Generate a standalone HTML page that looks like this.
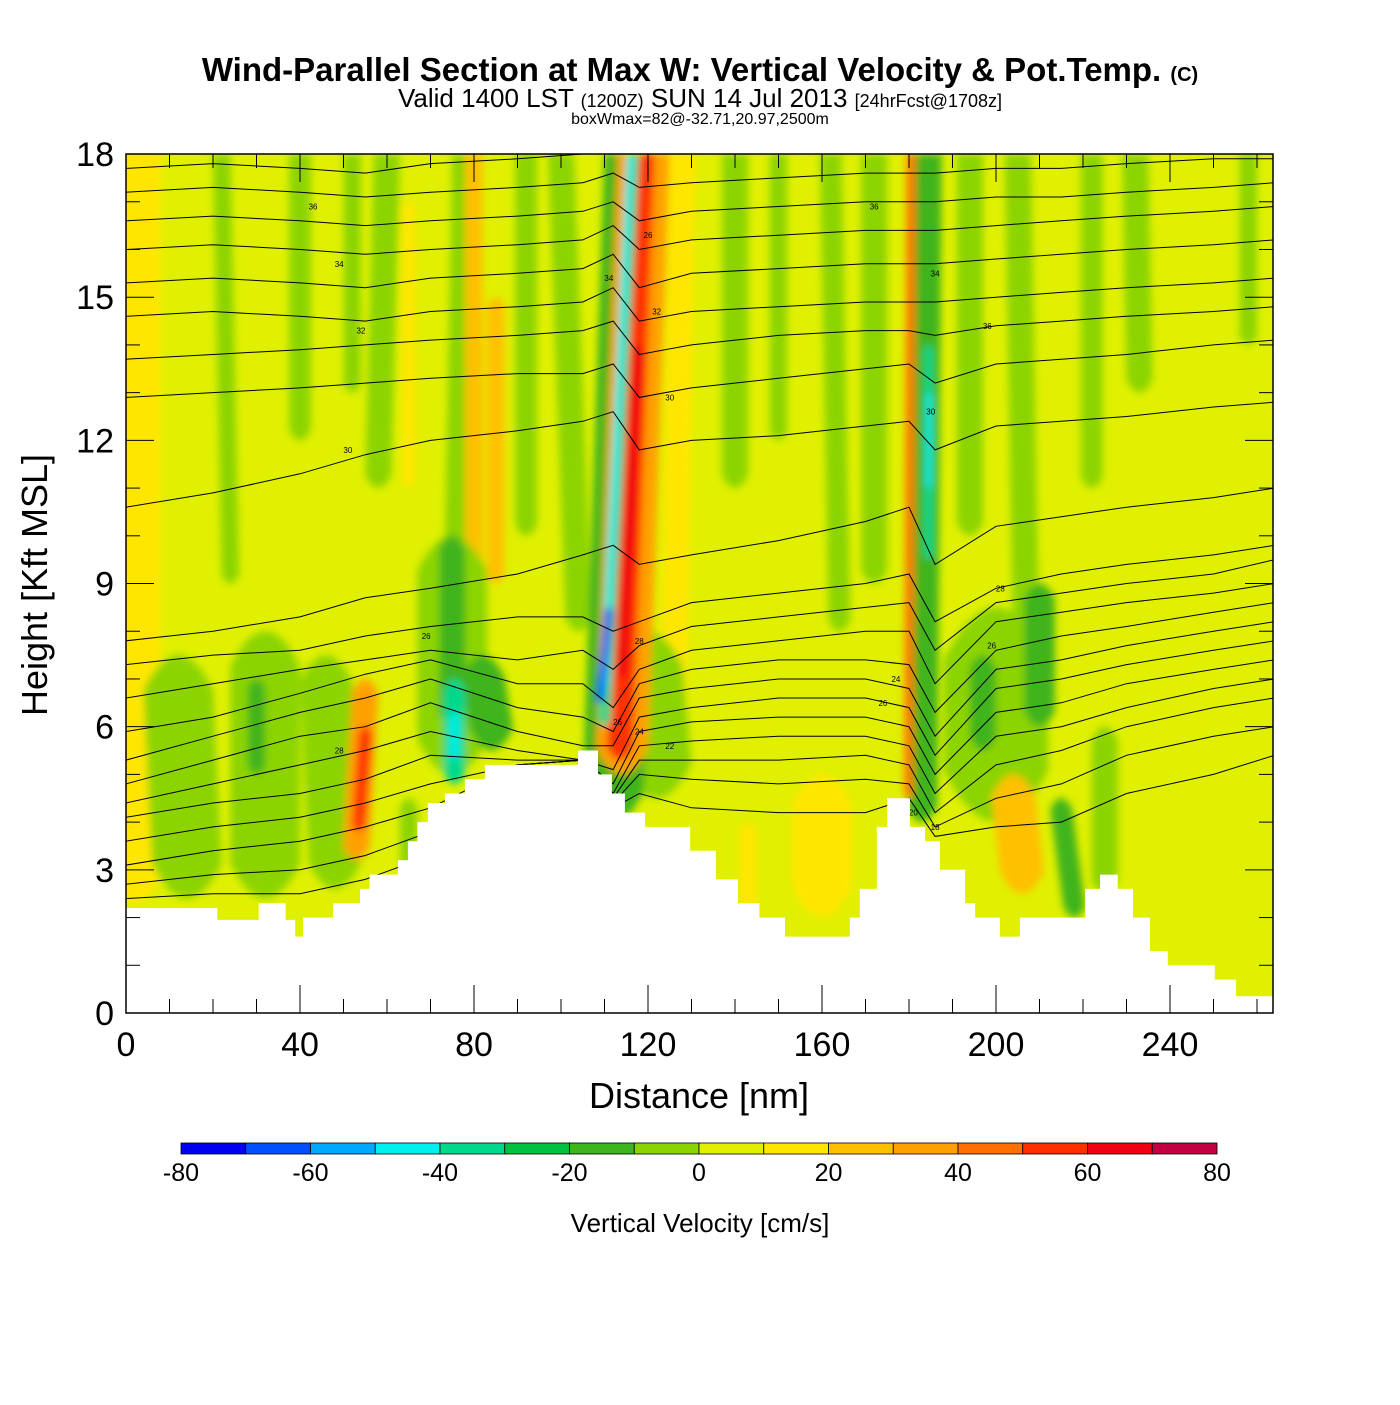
<!DOCTYPE html>
<html><head><meta charset="utf-8"><style>
html,body{margin:0;padding:0;background:#fff;}
svg text{font-family:"Liberation Sans",sans-serif;}
</style></head><body>
<svg id="chart" width="1400" height="1400" viewBox="0 0 1400 1400" xmlns="http://www.w3.org/2000/svg">
<defs>
<filter id="soft" x="-20%" y="-5%" width="140%" height="110%"><feGaussianBlur stdDeviation="4"/></filter>
<clipPath id="plotclip"><rect x="126" y="154" width="1147" height="859"/></clipPath>
</defs>
<text x="700" y="81" text-anchor="middle" font-size="33" font-weight="bold">Wind-Parallel Section at Max W: Vertical Velocity &amp; Pot.Temp. <tspan font-size="20">(C)</tspan></text>
<text x="700" y="107" text-anchor="middle" font-size="26">Valid 1400 LST <tspan font-size="18">(1200Z)</tspan> SUN 14 Jul 2013 <tspan font-size="18">[24hrFcst@1708z]</tspan></text>
<text x="700" y="124" text-anchor="middle" font-size="16">boxWmax=82@-32.71,20.97,2500m</text>
<g id="plot" clip-path="url(#plotclip)"></g>
<g id="axes"></g>
<g id="cbar"></g>
</svg>
<script>
// ---- data ----
const wLevels = [-80,-70,-60,-50,-40,-30,-20,-10,0,10,20,30,40,50,60,70,80];
const wColors = ["#0000f0","#0050ff","#00a8ff","#00f0f0","#00d88c","#00c040","#40b41e","#8cd400","#e0f000","#ffe600","#ffc000","#ffa000","#ff7000","#ff3000","#f00010","#c00040"];
const xTicks = [0,40,80,120,160,200,240];
const yTicks = [0,3,6,9,12,15,18];
// streaks: [xTopNm, xBottomNm, halfWidthNm, topKft, bottomKft, w]
const streaks = [
 [2,2,6,18,2.3,15],
 [40,40,2.5,18,12,-5],[22,24,2,18,9,-5],[60,58,3,18,11,-5],[52,52,2,18,13,-5],
 [78,76,3,18,8,-5],[92,92,2.5,18,10,-5],[100,104,3,18,8,-5],[140,140,3,18,11,-5],
 [150,150,2,18,12,-5],[162,164,2.5,18,8,-5],[172,172,3,18,9,-5],[194,194,3,18,10,-5],
 [205,207,3,18,7,-5],[222,222,2.5,18,11,-5],[232,233,3,18,13,-5],[258,258,2,18,14,-5],
 [80,80,2,18,9,25],[85,85,2,15,9,25],[65,65,1.5,17,11,15],[128,126,3,18,6,15],
 [12,14,8,7.5,2.4,-5],[32,32,8,8,2.4,-5],[46,48,6,7.5,2.6,-5],[75,75,8,10,5,-5],[75,75,3,10,6,-15],
 [30,30,2,7,5,-15],[82,84,5,7.5,5.5,-15],[120,122,8,8,4.5,-5],[200,200,12,8.5,4,-5],
 [210,210,3.5,9,6,-15],[197,197,3,7.5,5.5,-15],[215,218,2.5,4.5,2,-20],[225,225,3,6,2.5,-5],
 [117,112,7,18,4,-15],[119,114,6,18,5,30],[118.5,113.5,3,18,5.3,55],[118,114,1.2,14,7,65],
 [116.5,110,1.4,18,6,-40],[116,110,0.7,18,6.8,-50],[111,109,0.8,8.5,6.5,-65],
 [184,183,3.5,18,4,-15],[180.5,180,1,18,4.5,45],[184.5,184.5,1,14,9.5,-40],[184.7,184.6,0.6,13,11,-50],
 [55,53,3,7,3.2,35],[55,53.5,1.5,6,3.8,55],[75.5,75.5,2.5,7,4.8,-40],[75.5,75.5,1,6.3,5.3,-50],
 [204,206,5,5,2.5,25],[160,160,7,5,2,15],[143,143,2,4,2,15],[65,65,2,4.5,3,-5]
];
// terrain: [nm, kft] step profile
const terrain = [[0,2.2],[21,2.2],[21,1.95],[30.5,1.95],[30.5,2.3],[36.7,2.3],[36.7,1.95],[38.9,1.95],[38.9,1.6],[40.7,1.6],[40.7,2.0],[47.6,2.0],[47.6,2.3],[53.8,2.3],[53.8,2.6],[56,2.6],[56,2.9],[62.5,2.9],[62.5,3.2],[64.8,3.2],[64.8,3.6],[67,3.6],[67,4.0],[69.4,4.0],[69.4,4.4],[73.3,4.4],[73.3,4.6],[77.9,4.6],[77.9,4.9],[82.5,4.9],[82.5,5.2],[103.9,5.2],[103.9,5.5],[108.5,5.5],[108.5,5.0],[111.7,5.0],[111.7,4.6],[114.7,4.6],[114.7,4.2],[119.3,4.2],[119.3,3.9],[129.7,3.9],[129.7,3.4],[135.6,3.4],[135.6,2.8],[140.7,2.8],[140.7,2.3],[145.6,2.3],[145.6,2.0],[151.5,2.0],[151.5,1.6],[166.4,1.6],[166.4,2.0],[168.7,2.0],[168.7,2.6],[172.6,2.6],[172.6,3.9],[175,3.9],[175,4.5],[180.2,4.5],[180.2,3.9],[183.7,3.9],[183.7,3.6],[187.1,3.6],[187.1,3.0],[192.9,3.0],[192.9,2.3],[195.2,2.3],[195.2,2.0],[200.9,2.0],[200.9,1.6],[205.5,1.6],[205.5,2.0],[220.5,2.0],[220.5,2.6],[223.9,2.6],[223.9,2.9],[228.0,2.9],[228.0,2.6],[231.5,2.6],[231.5,2.0],[235.4,2.0],[235.4,1.3],[239.5,1.3],[239.5,1.0],[250.3,1.0],[250.3,0.7],[255.2,0.7],[255.2,0.35],[264,0.35]];
// theta contours: heights (kft) at contourX nodes
const contourX = [0,20,40,55,70,90,105,112,118,130,150,170,180,186,200,215,230,250,264];
const contours = [
 [17.7,17.8,17.7,17.6,17.8,17.9,18,18,18,18,18,18,18,18,18,18,18,18,18],
 [17.2,17.3,17.2,17.1,17.2,17.3,17.4,17.6,17.3,17.4,17.5,17.6,17.6,17.6,17.7,17.7,17.8,17.9,17.9],
 [16.6,16.7,16.6,16.5,16.6,16.7,16.8,17.0,16.6,16.8,16.9,17.0,17.0,17.0,17.1,17.1,17.2,17.3,17.4],
 [16.0,16.1,16.0,15.9,16.0,16.1,16.2,16.5,16.0,16.2,16.3,16.4,16.4,16.4,16.5,16.6,16.7,16.8,16.9],
 [15.3,15.4,15.3,15.2,15.4,15.5,15.6,15.9,15.2,15.5,15.6,15.7,15.7,15.7,15.8,15.9,16.0,16.1,16.2],
 [14.6,14.7,14.6,14.5,14.7,14.8,14.9,15.2,14.5,14.7,14.8,14.9,14.9,14.9,15.0,15.1,15.2,15.3,15.4],
 [13.7,13.8,13.9,14.0,14.1,14.2,14.3,14.5,13.8,14.0,14.2,14.3,14.3,14.2,14.4,14.5,14.6,14.7,14.8],
 [12.9,13.0,13.1,13.2,13.3,13.4,13.4,13.6,12.9,13.1,13.3,13.5,13.6,13.2,13.6,13.7,13.8,14.0,14.1],
 [10.6,10.9,11.3,11.7,12.0,12.2,12.4,12.6,11.8,12.0,12.1,12.3,12.4,11.8,12.3,12.4,12.5,12.7,12.8],
 [7.8,8.0,8.3,8.7,8.9,9.2,9.6,9.8,9.4,9.6,9.9,10.3,10.6,9.4,10.2,10.4,10.6,10.8,11.0],
 [7.3,7.5,7.6,7.9,8.1,8.3,8.3,8.0,8.2,8.6,8.8,9.0,9.2,8.2,8.9,9.2,9.4,9.6,9.8],
 [6.6,6.9,7.2,7.4,7.6,7.4,7.6,7.2,7.7,8.1,8.3,8.5,8.6,7.6,8.6,8.8,9.0,9.2,9.5],
 [5.9,6.2,6.7,7.1,7.4,6.9,6.9,6.4,7.2,7.6,7.8,8.0,8.0,6.9,8.2,8.4,8.6,8.8,9.0],
 [5.3,5.8,6.3,6.6,7.0,6.4,6.2,5.9,6.9,7.2,7.4,7.4,7.3,6.3,7.6,7.9,8.1,8.4,8.6],
 [4.8,5.3,5.8,6.0,6.5,5.9,5.6,5.6,6.6,6.8,7.0,7.0,6.8,5.8,7.2,7.4,7.7,8.0,8.2],
 [4.4,4.8,5.2,5.5,5.9,5.5,5.3,5.1,6.2,6.4,6.6,6.6,6.4,5.4,6.8,7.0,7.3,7.6,7.8],
 [4.1,4.4,4.6,4.9,5.4,5.3,5.3,4.8,5.9,6.1,6.2,6.2,6.0,5.0,6.3,6.5,6.9,7.2,7.4],
 [3.6,3.9,4.1,4.4,4.8,5.2,5.3,4.6,5.6,5.7,5.8,5.8,5.6,4.6,5.8,6.0,6.4,6.8,7.0],
 [3.1,3.4,3.6,3.9,4.3,5.2,5.3,4.5,5.3,5.3,5.3,5.4,5.2,4.2,5.2,5.5,6.0,6.4,6.6],
 [2.7,2.9,3.0,3.3,3.8,5.2,5.3,4.4,5.0,4.9,4.8,4.9,4.8,3.9,4.5,4.8,5.4,5.8,6.0],
 [2.4,2.5,2.5,2.8,3.3,5.2,5.3,4.3,4.6,4.3,4.2,4.2,4.5,3.7,3.9,4.0,4.6,5.0,5.4]
];
const contourLabels = [[43,16.9,"36"],[49,15.7,"34"],[54,14.3,"32"],[51,11.8,"30"],[69,7.9,"26"],[49,5.5,"28"],[120,16.3,"26"],[111,15.4,"34"],[122,14.7,"32"],[125,12.9,"30"],[118,7.8,"28"],[113,6.1,"26"],[118,5.9,"24"],[125,5.6,"22"],[172,16.9,"36"],[186,15.5,"34"],[198,14.4,"36"],[185,12.6,"30"],[201,8.9,"28"],[199,7.7,"26"],[177,7.0,"24"],[174,6.5,"26"],[181,4.2,"20"],[186,3.9,"18"]];

// ---- scales ----
const X = nm => 126 + nm * 4.35;
const Y = k => 1013 - k * 47.72;
const NS = "http://www.w3.org/2000/svg";
function mk(tag, attrs, parent){ const e=document.createElementNS(NS,tag); for(const k in attrs) e.setAttribute(k,attrs[k]); parent.appendChild(e); return e; }
function colorFor(w){ let i=Math.floor((w+80)/10); i=Math.max(0,Math.min(15,i)); return wColors[i]; }

const plot=document.getElementById('plot');
const bg=mk('rect',{x:126,y:154,width:1147,height:859,fill:colorFor(5)},plot);


const sg=mk('g',{filter:'url(#soft)'},plot);
streaks.forEach((s,i)=>{
  const [xt,xb,hw,top,bot,w]=s;
  const r=Math.min(hw*4.35,(Y(bot)-Y(top))/3);
  const pts=[[X(xt-hw),Y(top)],[X(xt+hw),Y(top)],[X(xb+hw),Y(bot)],[X(xb-hw),Y(bot)]];
  const topR = top>=17.9 ? 0 : r;
  const d=`M${pts[0][0]},${pts[0][1]+topR} Q${(pts[0][0]+pts[1][0])/2},${pts[0][1]-topR} ${pts[1][0]},${pts[1][1]+topR} L${pts[2][0]},${pts[2][1]-r} Q${(pts[2][0]+pts[3][0])/2},${pts[2][1]+r} ${pts[3][0]},${pts[3][1]-r} Z`;
  const p=mk('path',{d:d,fill:colorFor(w)},sg);
  
  
});
// contours
const cg=mk('g',{fill:'none',stroke:'#000','stroke-width':1},plot);
contours.forEach((c,i)=>{
  const d=c.map((h,j)=>(j?'L':'M')+X(contourX[j]).toFixed(1)+','+Y(h).toFixed(1)).join(' ');
  const p=mk('path',{d:d},cg);
  
  
});
contourLabels.forEach(l=>{
  const t=mk('text',{x:X(l[0]),y:Y(l[1])+3,'font-size':8,'text-anchor':'middle',fill:'#000'},plot);
  t.textContent=l[2];
  
  
});
// terrain
let td='M'+X(0)+','+Y(0);
terrain.forEach(p=>{ td+=' L'+X(p[0]).toFixed(1)+','+Y(p[1]).toFixed(1); });
td+=' L'+X(264)+','+Y(0)+' Z';
const ter=mk('path',{d:td,fill:'#fff'},plot);



// axes
const ax=document.getElementById('axes');
const frame=mk('rect',{x:126,y:154,width:1147,height:859,fill:'none',stroke:'#000','stroke-width':1.5},ax);


for(let v=0;v<=260;v+=10){
  const big=v%40===0, L=big?28:14;
  mk('line',{x1:X(v),x2:X(v),y1:1013,y2:1013-L,stroke:'#000'},ax);
  mk('line',{x1:X(v),x2:X(v),y1:154,y2:154+L,stroke:'#000'},ax);
}
for(let v=0;v<=18;v+=1){
  const big=v%3===0, L=big?28:14;
  mk('line',{x1:126,x2:126+L,y1:Y(v),y2:Y(v),stroke:'#000'},ax);
  mk('line',{x1:1273,x2:1273-L,y1:Y(v),y2:Y(v),stroke:'#000'},ax);
}
xTicks.forEach(v=>{
  const t=mk('text',{x:X(v),y:1056,'font-size':34,'text-anchor':'middle'},ax);
  t.textContent=v;
  
  
});
yTicks.forEach(v=>{
  const t=mk('text',{x:114,y:Y(v)+12,'font-size':34,'text-anchor':'end'},ax);
  t.textContent=v;
  
  
});
const xl=mk('text',{x:699,y:1108,'font-size':36,'text-anchor':'middle'},ax);
xl.textContent='Distance [nm]';


const yl=mk('text',{x:0,y:0,'font-size':36,'text-anchor':'middle',transform:'translate(47,585) rotate(-90)'},ax);
yl.textContent='Height [Kft MSL]';



// colorbar
const cb=document.getElementById('cbar');
const cw=(1217-181)/16;
wColors.forEach((c,i)=>{
  const r=mk('rect',{x:181+i*cw,y:1143,width:cw,height:11,fill:c,stroke:'#000','stroke-width':0.8},cb);
  
  
});
wLevels.forEach((v,i)=>{
  if(i%2) return;
  const t=mk('text',{x:181+i*cw,y:1181,'font-size':25,'text-anchor':'middle'},cb);
  t.textContent=v;
  
  
});
const ct=mk('text',{x:700,y:1232,'font-size':26,'text-anchor':'middle'},cb);
ct.textContent='Vertical Velocity [cm/s]';


</script>
</body></html>
